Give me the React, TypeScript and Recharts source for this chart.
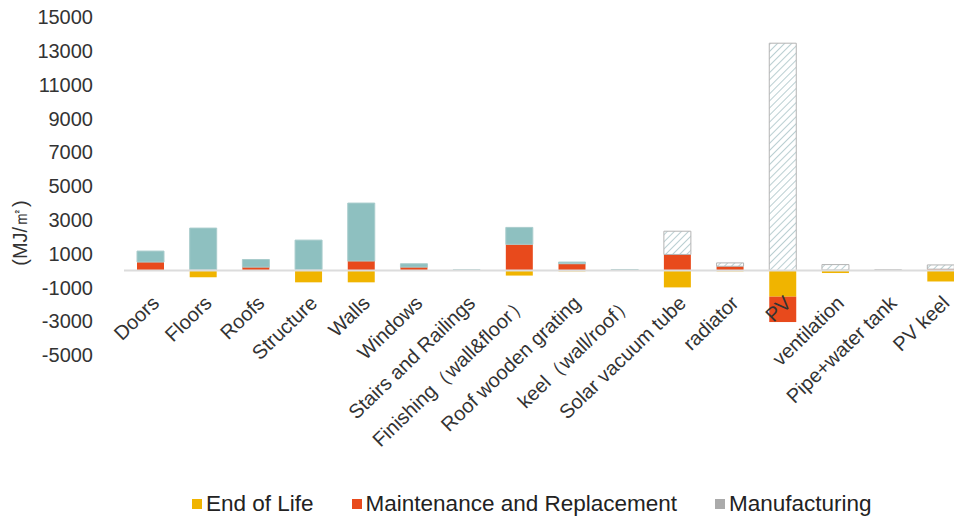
import { Bar, BarChart, Cell, Legend, ReferenceLine, XAxis, YAxis } from "recharts";

const categories = [
  "Doors",
  "Floors",
  "Roofs",
  "Structure",
  "Walls",
  "Windows",
  "Stairs and Railings",
  "Finishing（wall&floor）",
  "Roof wooden grating",
  "keel（wall/roof）",
  "Solar vacuum tube",
  "radiator",
  "PV",
  "ventilation",
  "Pipe+water tank",
  "PV keel",
];

const endOfLife = [0, -400, 0, -700, -700, 0, -20, -300, -50, -30, -1000, -50, -1550, -150, -30, -650];
const maintenance = [500, 60, 200, 50, 560, 200, 10, 1550, 400, 20, 950, 250, -1500, 30, 10, 80];
const manufacturing = [650, 2450, 450, 1750, 3430, 200, 30, 1000, 100, 40, 1375, 200, 13450, 320, 30, 250];
const hatched = [false, false, false, false, false, false, false, false, false, false, true, true, true, true, true, true];

const seriesNames = ["End of Life", "Maintenance and Replacement", "Manufacturing"];
const legendColors = ["#f0b400", "#e84a1c", "#ababab"];

const yTicks = [-5000, -3000, -1000, 1000, 3000, 5000, 7000, 9000, 11000, 13000, 15000];
const Y_MIN = -5000;
const Y_MAX = 15000;

const data = categories.map((name, i) => ({
  name,
  eol: endOfLife[i],
  maint: maintenance[i],
  manuf: manufacturing[i],
}));

const TOP = 17;
const PLOT_H = 338;
const ZERO_Y = TOP + (PLOT_H * Y_MAX) / (Y_MAX - Y_MIN);
const FONT = "'Liberation Sans', Arial, sans-serif";

function CategoryTick(props: any) {
  const { x, payload } = props;
  return (
    <g transform={`translate(${x + 10},${ZERO_Y + 34})`}>
      <text textAnchor="end" transform="rotate(-44)" fontSize={20} fill="#333" fontFamily={FONT}>
        {payload.value}
      </text>
    </g>
  );
}

function LegendBox() {
  return (
    <div style={{ display: "flex", alignItems: "center", fontSize: 22.5, color: "#222", fontFamily: FONT }}>
      {seriesNames.map((n, i) => (
        <div key={n} style={{ display: "flex", alignItems: "center", marginRight: 38 }}>
          <span style={{ width: 10, height: 10, background: legendColors[i], marginRight: 4, display: "inline-block" }} />
          <span>{n}</span>
        </div>
      ))}
    </div>
  );
}

export default function App() {
  return (
    <div style={{ width: 954, height: 520, overflow: "hidden", fontFamily: FONT }}>
      <style>{`body{margin:0}`}</style>
      <BarChart
        width={968}
        height={520}
        data={data}
        stackOffset="sign"
        barSize={27}
        margin={{ top: TOP, right: 1, left: 24, bottom: 135 }}
      >
        <defs>
          <pattern id="hatch" patternUnits="userSpaceOnUse" width="5" height="5" patternTransform="rotate(45)">
            <rect width="5" height="5" fill="#ffffff" />
            <line x1="0" y1="0" x2="0" y2="5" stroke="#a9c3c7" strokeWidth="1.6" />
          </pattern>
        </defs>
        <XAxis
          dataKey="name"
          axisLine={false}
          tickLine={false}
          interval={0}
          height={30}
          tick={<CategoryTick />}
        />
        <YAxis
          domain={[Y_MIN, Y_MAX]}
          ticks={yTicks}
          axisLine={false}
          tickLine={false}
          width={100}
          tickMargin={25}
          tick={{ fontSize: 20, fill: "#333", fontFamily: FONT }}
          label={{
            content: () => (
              <text
                x={0}
                y={0}
                transform="translate(27,233) rotate(-90)"
                textAnchor="middle"
                fontSize={20}
                fill="#333"
                fontFamily={FONT}
              >
                (MJ/㎡)
              </text>
            ),
          }}
        />
        <ReferenceLine y={0} stroke="#dcdcdc" strokeWidth={2} />
        <Bar dataKey="eol" name={seriesNames[0]} stackId="a" fill="#f0b400" isAnimationActive={false} />
        <Bar dataKey="maint" name={seriesNames[1]} stackId="a" fill="#e84a1c" isAnimationActive={false} />
        <Bar dataKey="manuf" name={seriesNames[2]} stackId="a" fill="#8ec0c0" isAnimationActive={false}>
          {data.map((d, i) => (
            <Cell
              key={d.name}
              fill={hatched[i] ? "url(#hatch)" : "#8ec0c0"}
              stroke={hatched[i] ? "#b4b4b4" : "#a9cccc"}
              strokeWidth={1}
            />
          ))}
        </Bar>
        <Legend
          verticalAlign="middle"
          align="center"
          content={<LegendBox />}
          wrapperStyle={{ top: 491, left: 192, width: 762 }}
        />
      </BarChart>
    </div>
  );
}
